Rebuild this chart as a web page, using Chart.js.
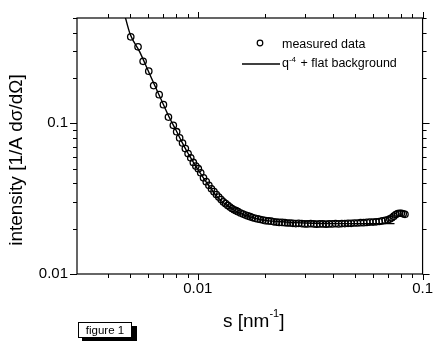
<!DOCTYPE html>
<html>
<head>
<meta charset="utf-8">
<script src="https://cdn.jsdelivr.net/npm/chart.js@4"></script>
<style>
html,body{margin:0;padding:0;background:#fff;}
#wrap{width:439px;height:345px;position:relative;}
</style>
</head>
<body>
<div id="wrap"><canvas id="c" width="439" height="345"></canvas></div>
<script>
// measured data (s in nm^-1, intensity)
const measuredS = [0.00503,0.00542,0.00571,0.00605,0.00636,0.00673,0.00703,0.0074,0.00778,0.00805,0.0083,0.00855,0.0088,0.00905,0.0093,0.00955,0.0098,0.01005,0.0103,0.0106,0.0109,0.0112,0.0115,0.0118,0.0121,0.0124,0.0127,0.013,0.0133,0.0136,0.0139,0.0142,0.0145,0.0148,0.0151,0.0155,0.0159,0.0163,0.0167,0.0171,0.0175,0.018,0.0185,0.019,0.0195,0.02,0.0206,0.0212,0.0218,0.0224,0.023,0.0237,0.0244,0.0251,0.0258,0.0265,0.0273,0.0281,0.029,0.0299,0.0308,0.0318,0.0328,0.0338,0.0349,0.036,0.0372,0.0384,0.0397,0.041,0.0423,0.0437,0.0451,0.0466,0.0481,0.0497,0.0513,0.053,0.0547,0.0565,0.0583,0.0602,0.0621,0.0641,0.0661,0.0682,0.07,0.0715,0.073,0.0745,0.076,0.0775,0.079,0.0805,0.082,0.0835];
const measuredI = [0.375,0.322,0.258,0.222,0.178,0.155,0.133,0.110,0.097,0.088,0.080,0.074,0.068,0.063,0.059,0.055,0.052,0.050,0.047,0.0435,0.041,0.0388,0.0368,0.0352,0.0337,0.0324,0.0312,0.0301,0.0293,0.0285,0.0278,0.0272,0.0267,0.0263,0.0259,0.0254,0.025,0.0246,0.0243,0.024,0.0237,0.0234,0.0232,0.023,0.0228,0.0226,0.0225,0.0224,0.0222,0.0221,0.022,0.022,0.0219,0.0218,0.0218,0.0217,0.0216,0.0217,0.0216,0.0215,0.0215,0.0216,0.0215,0.0214,0.0215,0.0215,0.0214,0.0215,0.0215,0.0216,0.0215,0.0216,0.0216,0.0217,0.0217,0.0218,0.0218,0.0219,0.0219,0.022,0.0221,0.0221,0.0222,0.0223,0.0225,0.0227,0.0229,0.0232,0.0236,0.0242,0.0248,0.0252,0.0253,0.0253,0.0251,0.0249];
// fit curve: q^-4 + flat background
const fitS = [0.0047,0.005,0.0055,0.006,0.0065,0.007,0.0075,0.008,0.0085,0.009,0.0095,0.010,0.011,0.012,0.013,0.014,0.015,0.016,0.018,0.020,0.025,0.03,0.04,0.06,0.075];
const fitI = [0.54,0.39,0.30,0.225,0.172,0.135,0.108,0.090,0.075,0.064,0.056,0.0495,0.040,0.0335,0.0297,0.0273,0.0258,0.0247,0.0234,0.0227,0.0221,0.0218,0.0216,0.0216,0.0216];
// axis tick labels
const xTickLabels = ['0.01','0.1'];
const yTickLabels = ['0.01','0.1'];

const FONT = "'Liberation Sans', Arial, Helvetica, sans-serif";

function labelFor(list){
  return function(value){
    for (const l of list){
      if (Math.abs(Math.log10(value) - Math.log10(parseFloat(l))) < 1e-6) return l;
    }
    return '';
  };
}
function isIntSignificand(v){
  const e = Math.floor(Math.log10(v) + 1e-9);
  const s = v / Math.pow(10, e);
  return Math.abs(s - Math.round(s)) < 1e-6;
}

const decor = {
  id: 'decor',
  afterDraw(chart){
    const ctx = chart.ctx;
    const a = chart.chartArea;
    const xs = chart.scales.x, ys = chart.scales.y;
    ctx.save();
    ctx.strokeStyle = '#000';
    ctx.lineWidth = 1.2;
    ctx.strokeRect(a.left, a.top, a.right - a.left, a.bottom - a.top);
    // ticks
    ctx.lineWidth = 1;
    ctx.beginPath();
    xs.ticks.forEach(t => {
      if (!isIntSignificand(t.value)) return;
      const px = Math.round(xs.getPixelForValue(t.value)) + 0.5;
      const major = Math.abs(Math.log10(t.value) - Math.round(Math.log10(t.value))) < 1e-6;
      const L = major ? 6 : 4;
      ctx.moveTo(px, a.bottom); ctx.lineTo(px, a.bottom + L);
      ctx.moveTo(px, a.top); ctx.lineTo(px, a.top - L);
    });
    ys.ticks.forEach(t => {
      if (!isIntSignificand(t.value)) return;
      const py = Math.round(ys.getPixelForValue(t.value)) + 0.5;
      const major = Math.abs(Math.log10(t.value) - Math.round(Math.log10(t.value))) < 1e-6;
      const L = major ? 7 : 4;
      ctx.moveTo(a.left, py); ctx.lineTo(a.left - L, py);
      ctx.moveTo(a.right, py); ctx.lineTo(a.right + L, py);
    });
    ctx.stroke();

    ctx.fillStyle = '#000';
    // y title
    ctx.save();
    ctx.translate(22, 160);
    ctx.rotate(-Math.PI/2);
    ctx.font = '19px ' + FONT;
    ctx.textAlign = 'center';
    ctx.textBaseline = 'alphabetic';
    ctx.fillText('intensity [1/A d\u03C3/d\u03A9]', 0, 0);
    ctx.restore();

    // x title: s [nm^-1]
    ctx.textAlign = 'left';
    ctx.textBaseline = 'alphabetic';
    let x = 223;
    ctx.font = '19px ' + FONT;
    ctx.fillText('s [nm', x, 327); x += ctx.measureText('s [nm').width;
    ctx.font = '11px ' + FONT;
    ctx.fillText('-1', x, 317); x += ctx.measureText('-1').width;
    ctx.font = '19px ' + FONT;
    ctx.fillText(']', x, 327);

    // legend
    ctx.lineWidth = 1.2;
    ctx.beginPath();
    ctx.arc(260, 43, 2.8, 0, Math.PI*2);
    ctx.stroke();
    ctx.font = '12.5px ' + FONT;
    ctx.fillText('measured data', 282, 48);
    ctx.lineWidth = 1.3;
    ctx.beginPath();
    ctx.moveTo(242, 64); ctx.lineTo(280, 64);
    ctx.stroke();
    x = 282;
    ctx.fillText('q', x, 67); x += ctx.measureText('q').width;
    ctx.font = '8px ' + FONT;
    ctx.fillText('-4', x, 62); x += ctx.measureText('-4').width + 1;
    ctx.font = '12.5px ' + FONT;
    ctx.fillText(' + flat background', x, 67);

    // figure 1 box
    ctx.fillStyle = '#000';
    ctx.fillRect(82, 326, 55, 15);
    ctx.fillStyle = '#fff';
    ctx.fillRect(78, 322, 54, 16);
    ctx.strokeStyle = '#000';
    ctx.lineWidth = 1;
    ctx.strokeRect(78.5, 322.5, 53, 15);
    ctx.fillStyle = '#000';
    ctx.font = '11.5px ' + FONT;
    ctx.textAlign = 'center';
    ctx.fillText('figure 1', 105, 334);
    ctx.restore();
  }
};

new Chart(document.getElementById('c'), {
  type: 'scatter',
  data: {
    datasets: [
      {
        label: 'q^-4 + flat background',
        type: 'line',
        data: fitS.map((s, i) => ({x: s, y: fitI[i]})),
        borderColor: '#000',
        borderWidth: 1.4,
        pointRadius: 0,
        fill: false,
        cubicInterpolationMode: 'monotone'
      },
      {
        label: 'measured data',
        data: measuredS.map((s, i) => ({x: s, y: measuredI[i]})),
        borderColor: '#000',
        backgroundColor: 'rgba(0,0,0,0)',
        borderWidth: 1.3,
        pointRadius: 3.2,
        pointStyle: 'circle',
        showLine: false
      }
    ]
  },
  options: {
    responsive: false,
    animation: false,
    events: [],
    layout: { padding: { top: 15, right: 10, left: 0, bottom: 0 } },
    plugins: { legend: { display: false }, tooltip: { enabled: false } },
    scales: {
      x: {
        type: 'logarithmic',
        min: 0.0029, max: 0.1,
        grid: { display: false, drawTicks: false },
        border: { display: false },
        ticks: {
          autoSkip: false, maxRotation: 0, padding: 6,
          color: '#000', font: { family: FONT, size: 15 },
          callback: labelFor(xTickLabels)
        },
        afterFit: s => { s.height = 71; }
      },
      y: {
        type: 'logarithmic',
        min: 0.01, max: 0.5,
        grid: { display: false, drawTicks: false },
        border: { display: false },
        ticks: {
          autoSkip: false, padding: 9,
          color: '#000', font: { family: FONT, size: 15 },
          callback: labelFor(yTickLabels)
        },
        afterFit: s => { s.width = 77; }
      }
    }
  },
  plugins: [decor]
});
</script>
</body>
</html>
